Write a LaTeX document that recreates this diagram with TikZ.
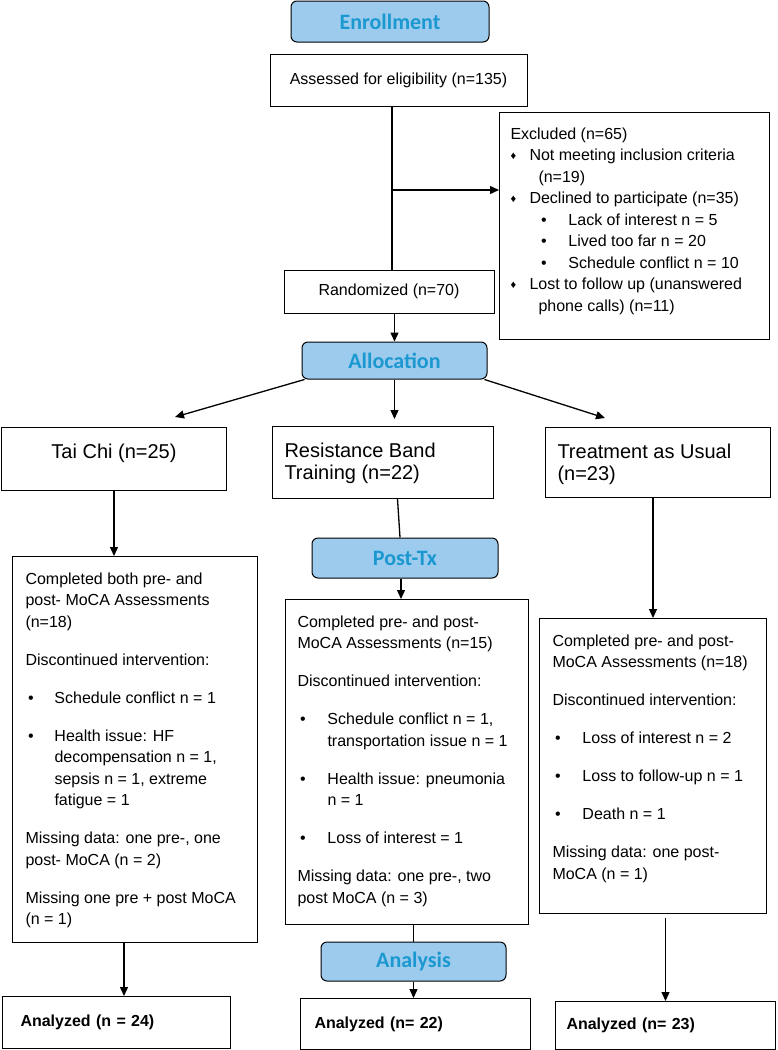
\documentclass[tikz,border=0pt]{standalone}
\usepackage{fontspec}
\setmainfont{Liberation Sans}
\newfontfamily\headfont{Carlito}
\usepackage{tikz}
\usetikzlibrary{arrows.meta}

\definecolor{headfill}{RGB}{157,203,238}
\definecolor{headtext}{RGB}{27,152,208}
\newcommand{\celltext}[3]{\begin{minipage}[t][#1][t]{#2}#3\end{minipage}}
\newcommand{\bul}[1]{\makebox[#1][l]{\hspace{2.5pt}\textbullet}}
\newcommand{\dia}{\makebox[19pt][l]{\raisebox{1pt}{\fontsize{11}{11}\selectfont ♦}}}
\newcommand{\subbul}{\hspace*{30.5pt}\makebox[27.5pt][l]{\textbullet}}

\begin{document}
\begin{tikzpicture}[x=1pt,y=-1pt,>={Triangle[length=9pt,width=8pt]},line width=1pt,
    head/.style={draw,rounded corners=6pt,fill=headfill,text=headtext,inner sep=0pt,font=\headfont\bfseries\fontsize{22}{24}\selectfont},
    box/.style={draw,anchor=north west,inner xsep=13pt,inner ysep=16pt,font=\fontsize{16}{21.5}\selectfont},
    plain/.style={draw,inner sep=0pt,font=\fontsize{16}{20}\selectfont},
    group/.style={draw,anchor=north west,inner xsep=12pt,inner ysep=17pt,font=\fontsize{20}{21.5}\selectfont},
    result/.style={draw,anchor=north west,align=left,inner ysep=0pt,font=\bfseries\fontsize{16}{20}\selectfont},
    link/.style={line width=1.3pt}]
  \useasboundingbox (0,0) rectangle (777,1050);

  \node[head,minimum width=198pt,minimum height=41pt] (enroll) at (390,21.5) {Enrollment};
  \node[plain,minimum width=257pt,minimum height=52pt] (assess) at (398.5,80) {Assessed for eligibility (n=135)};
  \node[box,inner xsep=11pt,inner ysep=15pt] (excl) at (499,112) {\celltext{197pt}{248pt}{%
    Excluded (n=65)\\
    \dia Not meeting inclusion criteria\\
    \hspace*{28pt}(n=19)\\
    \dia Declined to participate (n=35)\\
    \subbul Lack of interest n = 5\\
    \subbul Lived too far n = 20\\
    \subbul Schedule conflict n = 10\\
    \dia Lost to follow up (unanswered\\
    \hspace*{28pt}phone calls) (n=11)}};
  \node[plain,minimum width=210pt,minimum height=43pt] (rand) at (389,291.5) {Randomized (n=70)};
  \node[head,minimum width=185pt,minimum height=37pt] (alloc) at (394.5,360.5) {Allocation};

  \node[group] (taichi) at (1,427) {\celltext{29pt}{201pt}{\centering Tai Chi (n=25)}};
  \node[group] (rbt) at (272,426) {\celltext{38pt}{197pt}{Resistance Band\\ Training (n=22)}};
  \node[group] (tau) at (545,427) {\celltext{36pt}{201pt}{Treatment as Usual\\ (n=23)}};

  \node[box] (tcdet) at (12,556) {\celltext{354pt}{219pt}{%
    Completed both pre- and\\
    post- MoCA Assessments\\
    (n=18)\\[16.5pt]
    Discontinued intervention:\\[16.5pt]
    \bul{29pt}Schedule conflict n = 1\\[16.5pt]
    \bul{29pt}Health issue: HF\\
    \hspace*{29pt}decompensation n = 1,\\
    \hspace*{29pt}sepsis n = 1, extreme\\
    \hspace*{29pt}fatigue = 1\\[16.5pt]
    Missing data: one pre-, one\\
    post- MoCA (n = 2)\\[16.5pt]
    Missing one pre + post MoCA\\
    (n = 1)}};
  \node[head,minimum width=186pt,minimum height=40pt] (posttx) at (405,558) {Post-Tx};
  \node[box,inner xsep=12pt] (rbdet) at (285,599) {\celltext{293pt}{219pt}{%
    Completed pre- and post-\\
    MoCA Assessments (n=15)\\[16.5pt]
    Discontinued intervention:\\[16.5pt]
    \bul{30pt}Schedule conflict n = 1,\\
    \hspace*{30pt}transportation issue n = 1\\[16.5pt]
    \bul{30pt}Health issue: pneumonia\\
    \hspace*{30pt}n = 1\\[16.5pt]
    \bul{30pt}Loss of interest = 1\\[16.5pt]
    Missing data: one pre-, two\\
    post MoCA (n = 3)}};
  \node[box] (tadet) at (539,618) {\celltext{263pt}{201pt}{%
    Completed pre- and post-\\
    MoCA Assessments (n=18)\\[16.5pt]
    Discontinued intervention:\\[16.5pt]
    \bul{30pt}Loss of interest n = 2\\[16.5pt]
    \bul{30pt}Loss to follow-up n = 1\\[16.5pt]
    \bul{30pt}Death n = 1\\[16.5pt]
    Missing data: one post-\\
    MoCA (n = 1)}};
  \node[head,minimum width=185pt,minimum height=39pt] (analysis) at (413.5,961.5) {Analysis};

  \node[result,inner xsep=18pt,text width=192pt,minimum height=52pt] (tcan) at (2,996) {Analyzed (n = 24)};
  \node[result,inner xsep=14pt,text width=202pt,minimum height=51pt] (rban) at (300,998) {Analyzed (n= 22)};
  \node[result,inner xsep=11pt,text width=198pt,minimum height=48pt] (taan) at (555,1001) {Analyzed (n= 23)};

  \coordinate (br) at (392,190);
  \coordinate (tcin) at (175,417);
  \coordinate (rbin) at (394.5,419);
  \coordinate (tain) at (605,418);

  \draw[link] (assess.south -| br) -- (rand.north -| br);
  \draw[link,->] (br) -- (excl.west |- br);
  \draw[link,->] (rand.south -| alloc.north) -- (alloc.north);
  \draw[link,->] ([xshift=3pt]alloc.south west) -- (tcin);
  \draw[link,->] (alloc.south) -- (rbin);
  \draw[link,->] ([xshift=-3pt]alloc.south east) -- (tain);
  \draw[link,->] (taichi.south) -- (taichi.south |- tcdet.north);
  \draw[link] ([xshift=14.5pt]rbt.south) -- ([xshift=-5pt]posttx.north);
  \draw[link,->] ([xshift=-4pt]posttx.south) -- ([xshift=-4pt]posttx.south |- rbdet.north);
  \draw[link,->] (tau.south -| tadet.north) -- (tadet.north);
  \draw[link,->] ([xshift=-11pt]tcdet.south) -- ([xshift=-11pt]tcdet.south |- tcan.north);
  \draw[link] (analysis.north |- rbdet.south) -- (analysis.north);
  \draw[link,->] (analysis.south) -- (analysis.south |- rban.north);
  \draw[link,->] ([yshift=-4pt]taan.north |- tadet.south) -- (taan.north);
\end{tikzpicture}
\end{document}
